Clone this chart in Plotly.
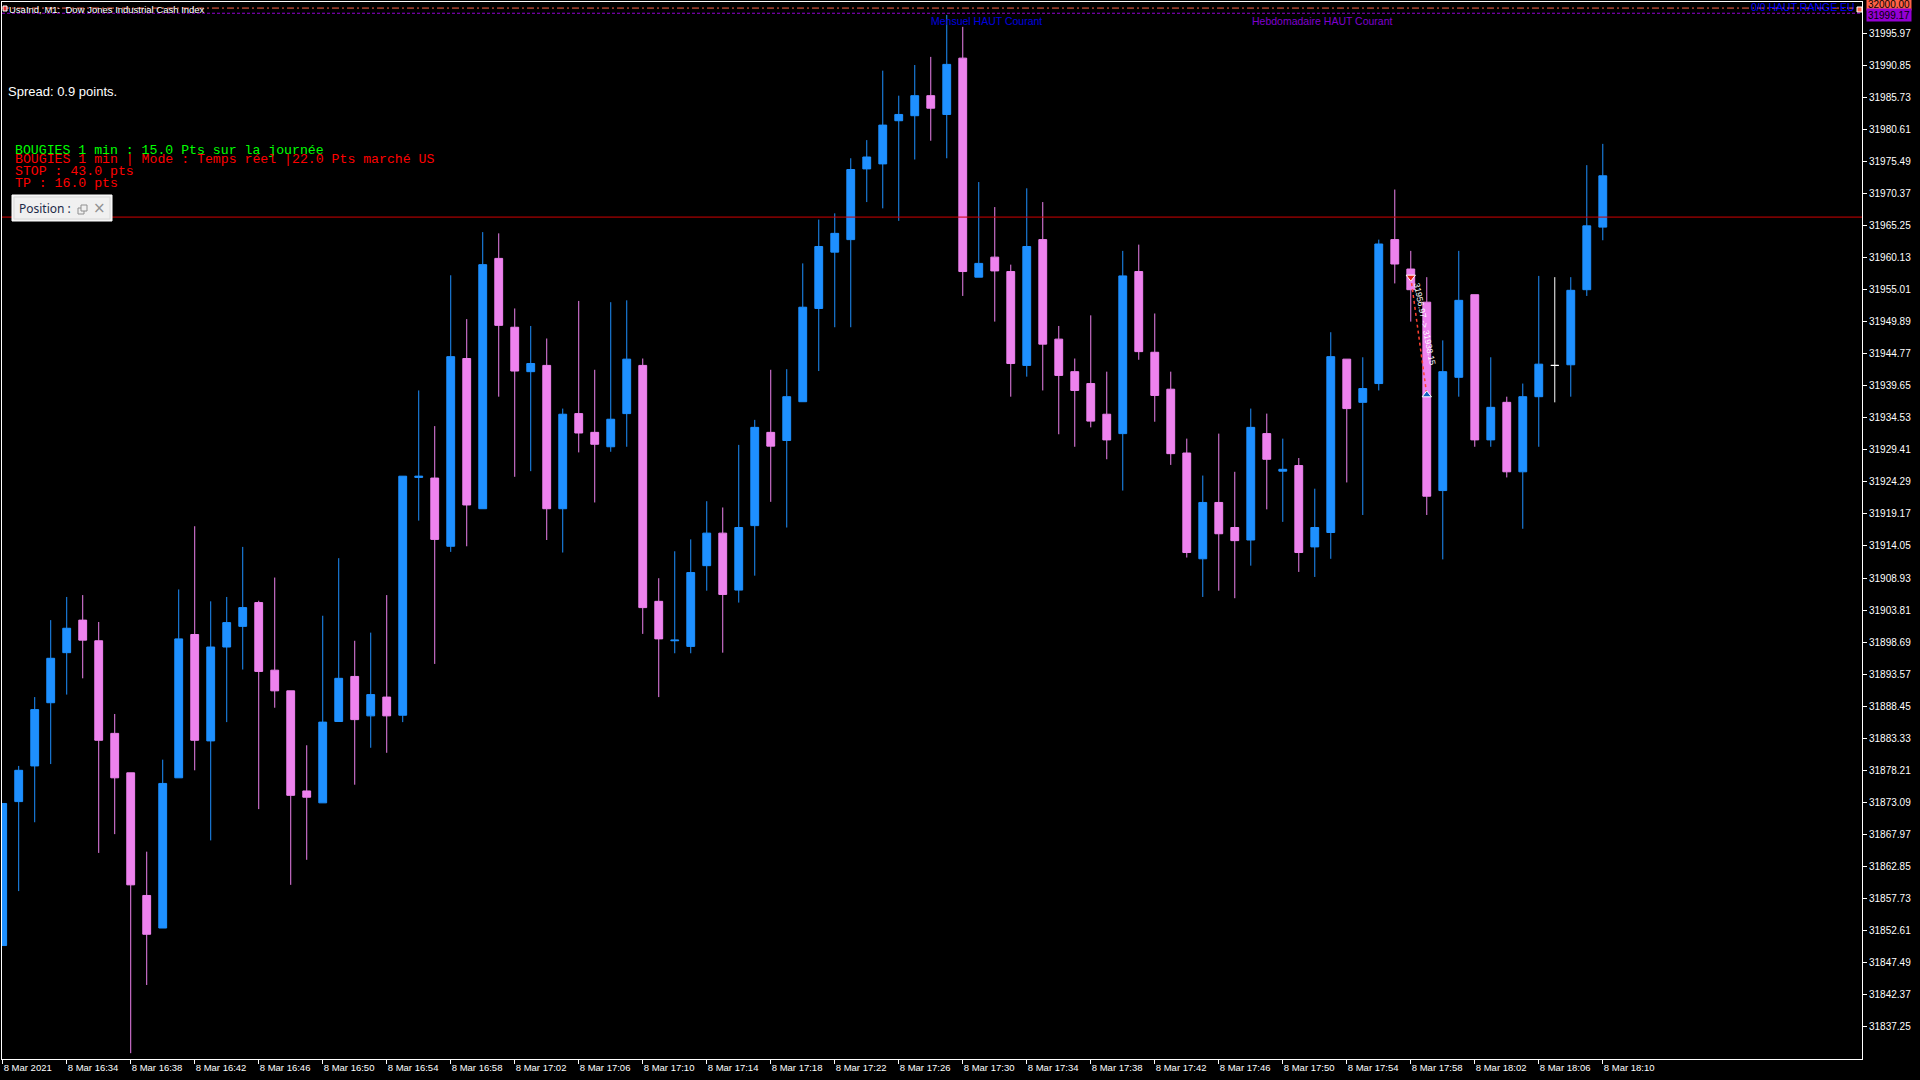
import plotly.graph_objects as go

# ---------------- data ----------------
bar_index = list(range(101))

opens = [31850.2, 31873.2, 31878.9, 31889.0, 31897.0, 31902.2, 31898.9, 31884.1, 31877.8, 31858.2,
         31853.0, 31877.0, 31899.9, 31882.9, 31897.9, 31901.2, 31905.0, 31894.2, 31890.9, 31874.9,
         31873.0, 31886.0, 31893.2, 31886.9, 31889.9, 31887.0, 31925.0, 31924.9, 31914.0, 31944.0,
         31920.0, 31960.0, 31949.0, 31941.9, 31942.9, 31920.0, 31935.2, 31932.2, 31929.9, 31935.2,
         31942.9, 31905.2, 31898.9, 31898.0, 31910.9, 31916.1, 31907.0, 31917.3, 31932.2, 31930.9,
         31937.1, 31952.0, 31961.0, 31963.0, 31974.3, 31975.1, 31982.0, 31982.8, 31986.0, 31983.0,
         31992.0, 31957.0, 31960.2, 31957.9, 31942.9, 31963.0, 31947.1, 31941.9, 31940.0, 31935.1,
         31932.0, 31957.9, 31945.0, 31939.1, 31928.9, 31912.0, 31921.0, 31917.0, 31915.0, 31932.0,
         31926.0, 31926.9, 31913.9, 31916.2, 31943.9, 31937.0, 31940.0, 31963.0, 31958.3, 31953.0,
         31922.9, 31941.0, 31954.2, 31931.0, 31937.0, 31925.9, 31937.9, 31942.9, 31943.0, 31955.0,
         31965.0]
highs = [31872.9, 31878.9, 31889.9, 31902.2, 31905.9, 31906.2, 31901.9, 31887.2, 31877.8, 31865.2,
         31879.9, 31907.1, 31917.2, 31905.2, 31905.9, 31913.9, 31905.3, 31909.0, 31890.9, 31882.2,
         31902.9, 31912.1, 31898.9, 31900.2, 31906.2, 31925.2, 31938.9, 31933.2, 31957.3, 31950.3,
         31964.2, 31964.0, 31952.0, 31949.2, 31947.2, 31936.0, 31953.2, 31942.2, 31953.0, 31953.3,
         31944.0, 31908.9, 31913.2, 31915.1, 31921.2, 31920.2, 31930.2, 31934.2, 31942.2, 31942.3,
         31959.2, 31966.2, 31967.2, 31976.0, 31978.9, 31990.0, 31986.0, 31990.9, 31992.2, 31998.9,
         31997.0, 31972.2, 31968.2, 31959.0, 31971.2, 31969.0, 31949.2, 31944.0, 31950.9, 31941.9,
         31961.2, 31962.2, 31951.2, 31941.9, 31931.2, 31925.3, 31932.0, 31925.9, 31936.0, 31935.2,
         31931.2, 31928.1, 31923.2, 31948.2, 31943.9, 31944.2, 31963.0, 31971.0, 31961.2, 31957.0,
         31946.9, 31961.2, 31954.2, 31944.2, 31937.9, 31940.0, 31957.2, 31957.0, 31957.0, 31974.9,
         31978.3]
lows = [31850.2, 31858.9, 31869.9, 31879.2, 31890.3, 31892.9, 31865.0, 31868.0, 31833.0, 31843.9,
        31853.0, 31877.0, 31878.2, 31867.0, 31885.9, 31894.3, 31872.0, 31888.2, 31859.9, 31863.9,
        31873.0, 31886.0, 31875.9, 31881.8, 31881.0, 31885.9, 31918.1, 31895.2, 31913.1, 31914.0,
        31920.0, 31937.9, 31925.1, 31926.0, 31915.0, 31913.0, 31929.0, 31921.0, 31929.1, 31929.9,
        31900.0, 31889.9, 31896.9, 31896.9, 31906.9, 31897.0, 31905.0, 31909.3, 31921.1, 31917.0,
        31937.1, 31942.0, 31949.0, 31949.0, 31969.0, 31968.0, 31966.0, 31975.8, 31978.8, 31976.0,
        31954.0, 31957.0, 31949.9, 31937.9, 31941.1, 31938.9, 31931.9, 31929.9, 31933.0, 31927.9,
        31922.9, 31943.8, 31933.9, 31927.0, 31912.2, 31905.9, 31906.9, 31905.7, 31910.9, 31919.9,
        31917.9, 31909.9, 31909.1, 31912.0, 31924.2, 31919.0, 31938.9, 31956.0, 31949.9, 31919.0,
        31911.9, 31937.9, 31929.9, 31929.9, 31925.0, 31916.8, 31929.9, 31937.0, 31937.9, 31954.0,
        31962.9]
closes = [31872.9, 31878.2, 31887.9, 31896.1, 31900.9, 31899.0, 31883.0, 31877.0, 31859.9, 31852.0,
          31876.1, 31899.2, 31883.0, 31897.9, 31901.8, 31904.2, 31894.0, 31890.9, 31874.2, 31873.9,
          31885.9, 31892.9, 31886.3, 31890.3, 31886.9, 31925.2, 31925.2, 31915.1, 31944.3, 31920.6,
          31959.0, 31949.3, 31942.0, 31943.2, 31920.0, 31935.1, 31932.1, 31930.3, 31934.3, 31943.9,
          31904.2, 31899.2, 31899.0, 31909.8, 31916.1, 31906.3, 31917.0, 31933.0, 31930.0, 31937.9,
          31952.2, 31961.9, 31964.0, 31974.2, 31976.2, 31981.3, 31983.0, 31986.0, 31984.0, 31991.0,
          31957.9, 31959.2, 31958.0, 31943.2, 31961.9, 31946.3, 31941.3, 31938.9, 31934.0, 31931.0,
          31957.2, 31945.1, 31938.1, 31928.8, 31913.0, 31921.0, 31916.0, 31914.9, 31933.0, 31927.9,
          31926.3, 31913.0, 31917.0, 31944.3, 31936.0, 31939.2, 31962.3, 31959.1, 31955.0, 31922.0,
          31941.9, 31953.3, 31931.0, 31936.2, 31925.9, 31937.9, 31943.1, 31942.9, 31954.9, 31965.2,
          31973.2]

white_doji_bars = [97]

x_tick_positions = list(range(0, 101, 4))
x_tick_labels = ["8 Mar 2021", "8 Mar 16:34", "8 Mar 16:38", "8 Mar 16:42", "8 Mar 16:46",
                 "8 Mar 16:50", "8 Mar 16:54", "8 Mar 16:58", "8 Mar 17:02", "8 Mar 17:06",
                 "8 Mar 17:10", "8 Mar 17:14", "8 Mar 17:18", "8 Mar 17:22", "8 Mar 17:26",
                 "8 Mar 17:30", "8 Mar 17:34", "8 Mar 17:38", "8 Mar 17:42", "8 Mar 17:46",
                 "8 Mar 17:50", "8 Mar 17:54", "8 Mar 17:58", "8 Mar 18:02", "8 Mar 18:06",
                 "8 Mar 18:10"]

y_tick_values = [31837.25, 31842.37, 31847.49, 31852.61, 31857.73, 31862.85, 31867.97, 31873.09,
                 31878.21, 31883.33, 31888.45, 31893.57, 31898.69, 31903.81, 31908.93, 31914.05,
                 31919.17, 31924.29, 31929.41, 31934.53, 31939.65, 31944.77, 31949.89, 31955.01,
                 31960.13, 31965.25, 31970.37, 31975.49, 31980.61, 31985.73, 31990.85, 31995.97]

level_range_eu = 32000.00      # tomato dash-dot line
level_weekly = 31999.17        # purple dashed line
level_red = 31966.6            # red horizontal line

trade_bars = [88, 89]
trade_prices = [31957.0, 31938.2]
trade_text = "31956.97 -> 31938.15"

# ---------------- style ----------------
BLUE = "#1E90FF"
PINK = "#EE82EE"
TOMATO = "#FF6347"
PURPLE = "#9400D3"

W, H = 1920, 1080
L_PX, R_PX, T_PX, B_PX = 2, 1862, 2, 1059


def px(xp):
    return (xp - L_PX) / (R_PX - L_PX)


def py(yp):
    return (B_PX - yp) / (B_PX - T_PX)


fig = go.Figure()

main_idx = [i for i in bar_index if i not in white_doji_bars]
fig.add_trace(go.Candlestick(
    x=[bar_index[i] for i in main_idx],
    open=[opens[i] for i in main_idx],
    high=[highs[i] for i in main_idx],
    low=[lows[i] for i in main_idx],
    close=[closes[i] for i in main_idx],
    increasing=dict(line=dict(color=BLUE, width=1), fillcolor=BLUE),
    decreasing=dict(line=dict(color=PINK, width=1), fillcolor=PINK),
    whiskerwidth=0, hoverinfo="skip", showlegend=False,
))
fig.add_trace(go.Candlestick(
    x=[bar_index[i] for i in white_doji_bars],
    open=[opens[i] for i in white_doji_bars],
    high=[highs[i] for i in white_doji_bars],
    low=[lows[i] for i in white_doji_bars],
    close=[closes[i] for i in white_doji_bars],
    increasing=dict(line=dict(color="white", width=1), fillcolor="white"),
    decreasing=dict(line=dict(color="white", width=1), fillcolor="white"),
    whiskerwidth=0, hoverinfo="skip", showlegend=False,
))

# trade line and arrows
fig.add_trace(go.Scatter(
    x=trade_bars, y=trade_prices, mode="lines",
    line=dict(color="#FF4030", width=1.5, dash="dot"),
    hoverinfo="skip", showlegend=False,
))
fig.add_trace(go.Scatter(
    x=[trade_bars[0]], y=[trade_prices[0]], mode="markers",
    marker=dict(symbol="triangle-down", size=8, color="#E02010", line=dict(color="white", width=1)),
    hoverinfo="skip", showlegend=False,
))
fig.add_trace(go.Scatter(
    x=[trade_bars[1]], y=[trade_prices[1]], mode="markers",
    marker=dict(symbol="triangle-up", size=8, color="#1060C0", line=dict(color="white", width=1)),
    hoverinfo="skip", showlegend=False,
))

shapes = []
# horizontal levels
shapes.append(dict(type="line", xref="paper", yref="y", x0=0, x1=1,
                   y0=level_range_eu, y1=level_range_eu,
                   line=dict(color=TOMATO, width=1, dash="7px,3px,2px,3px")))
shapes.append(dict(type="line", xref="paper", yref="y", x0=0, x1=1,
                   y0=level_weekly, y1=level_weekly,
                   line=dict(color=PURPLE, width=1, dash="3px,2px")))
shapes.append(dict(type="line", xref="paper", yref="y", x0=0, x1=1,
                   y0=level_red, y1=level_red,
                   line=dict(color="#D00000", width=1)))
# anchor square at right end of tomato line
shapes.append(dict(type="rect", xref="paper", yref="paper",
                   x0=px(1857), x1=px(1862), y0=py(12), y1=py(7),
                   line=dict(color="white", width=1), fillcolor=TOMATO))
# small icon at top-left
shapes.append(dict(type="rect", xref="paper", yref="paper",
                   x0=px(3), x1=px(7), y0=py(11), y1=py(6),
                   line=dict(color="white", width=1), fillcolor="#E03030"))
# Position widget
shapes.append(dict(type="rect", xref="paper", yref="paper",
                   x0=px(12), x1=px(112), y0=py(221), y1=py(195),
                   line=dict(color="#FFFFFF", width=1), fillcolor="#F0F0F0"))
shapes.append(dict(type="rect", xref="paper", yref="paper",
                   x0=px(14), x1=px(110), y0=py(219), y1=py(197),
                   line=dict(color="#D8D8D8", width=1), fillcolor="#F0F0F0"))
# restore icon (two overlapping squares)
shapes.append(dict(type="rect", xref="paper", yref="paper",
                   x0=px(78), x1=px(84), y0=py(214), y1=py(208),
                   line=dict(color="#909090", width=1), fillcolor="#F0F0F0"))
shapes.append(dict(type="rect", xref="paper", yref="paper",
                   x0=px(81), x1=px(87), y0=py(211), y1=py(205),
                   line=dict(color="#909090", width=1), fillcolor="#F0F0F0"))

annotations = []


def txt(text, x, y, color, size, family="Liberation Sans", xanchor="left", **kw):
    annotations.append(dict(text=text, x=px(x), y=py(y), xref="paper", yref="paper",
                            xanchor=xanchor, yanchor="middle", showarrow=False,
                            font=dict(color=color, size=size, family=family), **kw))


txt("UsaInd, M1:  Dow Jones Industrial Cash Index", 7, 9, "white", 9.5)
txt("Spread: 0.9 points.", 6, 91, "white", 13)
txt("BOUGIES 1 min : 15.0 Pts sur la journée", 13, 150, "#00FF00", 13.2, family="Liberation Mono")
txt("BOUGIES 1 min | Mode : Temps réel |22.0 Pts marché US", 13, 160, "#FF0000", 13.2,
    family="Liberation Mono")
txt("STOP : 43.0 pts", 13, 172, "#FF0000", 13.2, family="Liberation Mono")
txt("TP : 16.0 pts", 13, 183, "#FF0000", 13.2, family="Liberation Mono")
txt("Position :", 17, 208, "#1C2A48", 12, family="Noto Sans")
txt("×", 99, 208, "#909090", 15, family="DejaVu Sans", xanchor="center")
txt("Mensuel HAUT Courant", 929, 21, "#0000E0", 10.5)
txt("Hebdomadaire HAUT Courant", 1250, 21, "#8000D0", 10.5)
txt("0/0 HAUT RANGE EU", 1857, 7, "#0000FF", 10.5, xanchor="right")

# right-side price labels
annotations.append(dict(text=f"{level_range_eu:.2f}", x=px(1866), y=py(4), xref="paper", yref="paper",
                        xanchor="left", yanchor="middle", showarrow=False,
                        font=dict(color="black", size=10, family="Liberation Sans"),
                        bgcolor=TOMATO, width=42, height=10, borderpad=1))
annotations.append(dict(text=f"{level_weekly:.2f}", x=px(1866), y=py(15), xref="paper", yref="paper",
                        xanchor="left", yanchor="middle", showarrow=False,
                        font=dict(color="black", size=10, family="Liberation Sans"),
                        bgcolor=PURPLE, width=42, height=10, borderpad=1))

# trade text (rotated, beside the trade line)
annotations.append(dict(text=trade_text,
                        x=sum(trade_bars) / 2, y=sum(trade_prices) / 2, xref="x", yref="y",
                        xshift=6, yshift=12, textangle=79, showarrow=False,
                        font=dict(color="white", size=8.5, family="Liberation Sans")))

fig.update_layout(
    width=W, height=H,
    margin=dict(l=L_PX, r=W - R_PX, t=T_PX, b=H - B_PX, pad=0),
    paper_bgcolor="black", plot_bgcolor="black",
    showlegend=False, boxmode="overlay", boxgap=0.3,
    shapes=shapes, annotations=annotations,
    xaxis=dict(
        range=[-0.044, 116.2], showgrid=False, zeroline=False,
        showline=True, mirror=True, linecolor="white", linewidth=1,
        tickmode="array", tickvals=x_tick_positions, ticktext=x_tick_labels,
        ticks="outside", ticklen=4, tickcolor="white", tickwidth=1,
        ticklabelposition="outside right",
        tickfont=dict(color="white", size=9.5, family="Liberation Sans"),
        rangeslider=dict(visible=False), fixedrange=True,
    ),
    yaxis=dict(
        range=[31832.07, 32000.97], side="right", showgrid=False, zeroline=False,
        showline=True, mirror=True, linecolor="white", linewidth=1,
        tickmode="array", tickvals=y_tick_values, tickformat=".2f",
        ticks="outside", ticklen=4, tickcolor="white", tickwidth=1,
        tickfont=dict(color="white", size=10, family="Liberation Sans"),
        fixedrange=True,
    ),
)

fig.write_html("out.html", config={"displayModeBar": False})

# remove the browser's default page margin so the figure sits at (0, 0)
with open("out.html", "r", encoding="utf-8") as f:
    html = f.read()
html = html.replace("<head>", "<head><style>html,body{margin:0;padding:0;background:#000;overflow:hidden;}</style>", 1)
with open("out.html", "w", encoding="utf-8") as f:
    f.write(html)
